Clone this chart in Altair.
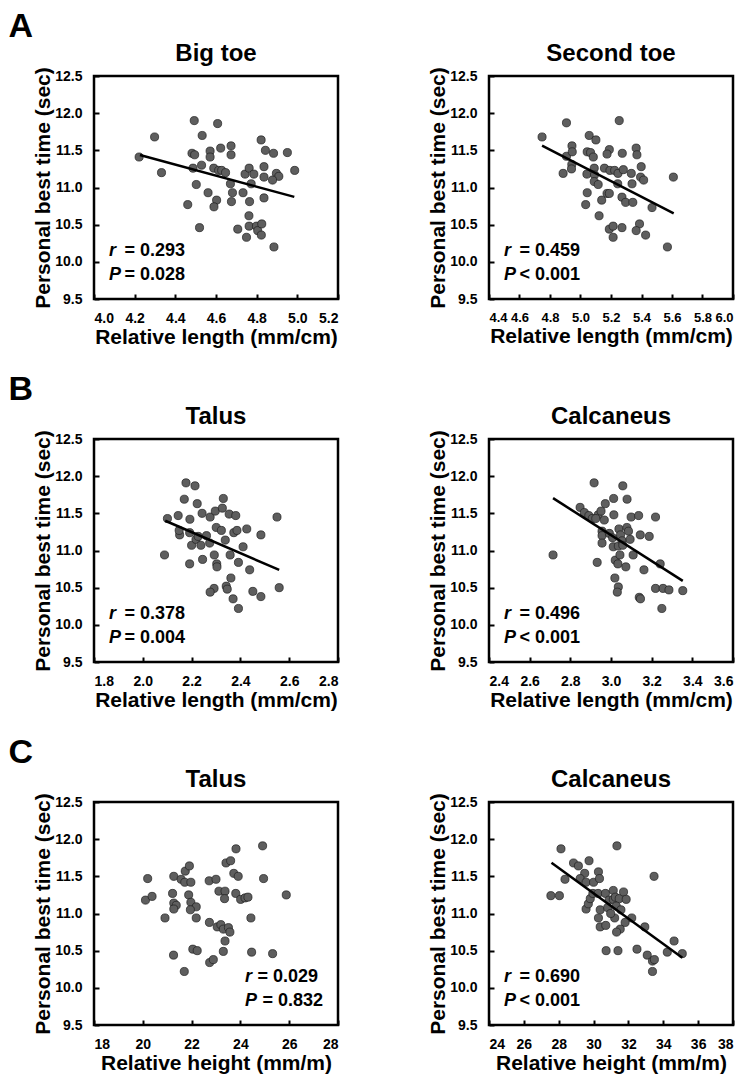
import altair as alt
import pandas as pd

# ---------------- data ----------------
Y_TICKS = [9.5, 10.0, 10.5, 11.0, 11.5, 12.0, 12.5]
Y_TITLE = "Personal best time (sec)"

# A - Big toe (relative length, mm/cm)
bigtoe_x = [4.222, 4.298, 4.332, 4.493, 4.482, 4.495, 4.487, 4.529, 4.532, 4.503, 4.461, 4.519,
            4.561, 4.571, 4.571, 4.608, 4.623, 4.589, 4.613, 4.628, 4.647, 4.603, 4.590, 4.674,
            4.674, 4.671, 4.681, 4.676, 4.707, 4.733, 4.743, 4.763, 4.786, 4.773, 4.765, 4.762,
            4.763, 4.750, 4.799, 4.805, 4.823, 4.825, 4.822, 4.843, 4.836, 4.836, 4.836, 4.883,
            4.897, 4.909, 4.878, 4.885, 4.951, 4.987]
bigtoe_y = [11.41, 11.68, 11.20, 11.90, 11.46, 11.44, 11.26, 11.30, 11.70, 11.04, 10.77, 10.46,
            10.93, 11.49, 11.41, 11.86, 11.53, 11.26, 11.23, 11.23, 11.20, 10.83, 10.74, 11.56,
            11.44, 11.05, 10.93, 10.81, 10.44, 10.93, 11.18, 11.26, 11.18, 11.05, 10.81, 10.62,
            10.48, 10.33, 10.48, 10.42, 10.36, 10.51, 11.64, 11.50, 11.28, 11.14, 10.86, 11.46,
            11.19, 11.15, 11.10, 10.20, 11.47, 11.23]
bigtoe_fit_x = [4.226, 4.985]
bigtoe_fit_y = [11.437, 10.874]

# A - Second toe
second_x = [4.748, 4.908, 4.908, 4.886, 4.944, 4.946, 4.943, 4.941, 5.057, 5.101, 5.044, 5.066,
            5.084, 5.090, 5.042, 5.092, 5.090, 5.116, 5.044, 5.034, 5.139, 5.122, 5.157, 5.189,
            5.174, 5.193, 5.174, 5.189, 5.254, 5.274, 5.224, 5.246, 5.281, 5.244, 5.272, 5.296,
            5.343, 5.333, 5.338, 5.365, 5.370, 5.398, 5.394, 5.414, 5.469, 5.189, 5.214, 5.214,
            5.272, 5.387, 5.365, 5.427, 5.570, 5.609]
second_y = [11.68, 11.87, 11.42, 11.19, 11.56, 11.48, 11.31, 11.25, 11.70, 11.64, 11.48, 11.47,
            11.41, 11.26, 11.18, 11.17, 11.08, 11.04, 10.93, 10.77, 10.83, 10.62, 11.26, 11.51,
            11.45, 11.23, 10.92, 10.92, 11.90, 11.46, 11.23, 11.19, 11.24, 11.05, 10.87, 10.80,
            10.80, 11.19, 11.05, 11.53, 11.44, 11.28, 11.14, 11.10, 10.73, 10.44, 10.48, 10.33,
            10.46, 10.51, 10.42, 10.36, 10.20, 11.14]
second_fit_x = [4.748, 5.611]
second_fit_y = [11.563, 10.653]

# B - Talus (relative length)
talusL_x = [2.089, 2.101, 2.145, 2.177, 2.214, 2.170, 2.151, 2.149, 2.193, 2.192, 2.200, 2.192,
            2.223, 2.243, 2.218, 2.227, 2.261, 2.238, 2.274, 2.245, 2.276, 2.297, 2.326, 2.330,
            2.301, 2.322, 2.293, 2.303, 2.304, 2.338, 2.354, 2.381, 2.358, 2.373, 2.386, 2.392,
            2.426, 2.411, 2.438, 2.484, 2.361, 2.342, 2.346, 2.292, 2.276, 2.370, 2.392, 2.451,
            2.484, 2.550, 2.559]
talusL_y = [10.94, 11.43, 11.47, 11.91, 11.87, 11.69, 11.21, 11.27, 11.42, 11.24, 11.07, 10.82,
            11.63, 11.50, 11.15, 11.19, 11.20, 11.07, 11.10, 10.88, 11.45, 11.53, 11.57, 11.70,
            11.31, 11.27, 10.94, 10.82, 10.78, 11.14, 11.49, 11.47, 10.94, 11.24, 11.27, 10.84,
            11.29, 11.05, 10.74, 11.21, 10.63, 10.52, 10.48, 10.49, 10.44, 10.35, 10.22, 10.45,
            10.38, 11.45, 10.50]
talusL_fit_x = [2.092, 2.559]
talusL_fit_y = [11.400, 10.739]

# B - Calcaneus (relative length)
calcL_x = [2.715, 2.848, 2.869, 2.891, 2.917, 2.908, 2.937, 2.951, 2.972, 2.925, 2.967, 2.956,
           2.956, 2.956, 2.992, 2.932, 3.013, 3.014, 3.008, 3.011, 3.036, 3.021, 3.034, 3.044,
           3.073, 3.058, 3.079, 3.039, 3.047, 3.055, 3.058, 3.078, 3.086, 3.094, 3.099, 3.136,
           3.144, 3.188, 3.109, 3.162, 3.019, 3.036, 3.031, 3.139, 3.145, 3.219, 3.242, 3.219,
           3.256, 3.285, 3.353, 3.250]
calcL_y = [10.94, 11.58, 11.51, 11.47, 11.91, 11.43, 11.48, 11.53, 11.63, 11.43, 11.41, 11.26,
           11.20, 11.10, 11.23, 10.84, 11.70, 11.48, 11.17, 11.05, 11.06, 10.87, 10.82, 10.94,
           10.78, 11.87, 11.69, 11.29, 11.21, 11.13, 11.07, 11.31, 11.26, 11.15, 11.45, 11.47,
           11.21, 11.19, 10.94, 10.74, 10.63, 10.51, 10.44, 10.37, 10.35, 11.45, 10.82, 10.49,
           10.49, 10.47, 10.46, 10.22]
calcL_fit_x = [2.715, 3.353]
calcL_fit_y = [11.704, 10.591]

# C - Talus (relative height, mm/m)
talusH_x = [20.11, 20.20, 20.38, 20.91, 21.22, 21.27, 21.27, 21.37, 21.27, 21.26, 21.57, 21.72,
            21.74, 21.91, 21.97, 21.88, 21.97, 22.19, 21.95, 22.19, 22.05, 22.23, 21.70, 22.73,
            22.72, 23.00, 23.12, 23.37, 23.35, 23.05, 23.20, 23.30, 23.51, 23.57, 23.37, 23.30,
            22.74, 22.89, 23.41, 23.60, 23.73, 23.91, 23.82, 23.81, 24.01, 24.19, 24.31, 24.43,
            24.46, 24.91, 24.95, 25.32, 25.88]
talusH_y = [11.18, 11.47, 11.23, 10.94, 11.27, 11.50, 11.14, 11.11, 11.06, 10.44, 11.46, 11.42,
            11.57, 11.64, 11.42, 11.25, 11.15, 11.09, 11.05, 10.94, 10.52, 10.50, 10.22, 10.88,
            11.44, 11.46, 11.30, 11.30, 11.20, 10.82, 10.85, 10.79, 10.81, 10.75, 10.63, 10.49,
            10.34, 10.38, 11.68, 11.71, 11.54, 11.50, 11.87, 11.27, 11.19, 11.21, 11.22, 10.94,
            10.48, 11.91, 11.47, 10.46, 11.25]

# C - Calcaneus (relative height, mm/m)
calcH_x = [27.55, 28.04, 28.13, 28.36, 28.85, 29.13, 29.49, 29.74, 29.23, 29.57, 30.00, 30.28,
           30.34, 29.57, 29.70, 29.81, 29.96, 30.26, 30.68, 30.38, 30.28, 30.38, 30.70, 30.89,
           31.13, 31.13, 31.34, 31.25, 31.47, 31.72, 31.87, 31.30, 30.81, 31.57, 31.21, 32.19,
           31.81, 31.53, 31.32, 30.72, 31.40, 32.49, 32.94, 33.08, 33.47, 33.38, 33.49, 33.38,
           34.23, 34.62, 35.09, 30.98]
calcH_y = [11.24, 11.24, 11.87, 11.46, 11.68, 11.64, 11.54, 11.71, 11.47, 11.42, 11.42, 11.56,
           11.47, 11.06, 11.13, 11.20, 11.27, 11.27, 11.27, 11.05, 10.94, 10.82, 10.84, 11.18,
           11.31, 11.19, 11.91, 11.22, 11.20, 11.29, 11.19, 11.10, 11.08, 11.05, 10.94, 10.94,
           10.88, 10.79, 10.75, 10.50, 10.50, 10.52, 10.82, 10.44, 11.50, 10.36, 10.38, 10.22,
           10.48, 10.63, 10.46, 11.00]
calcH_fit_x = [27.585, 35.094]
calcH_fit_y = [11.683, 10.406]

# ---------------- styling ----------------
FONT = "Liberation Sans"
W = 244
H = 223
DOT_FILL = "#5e5e5e"


def text_layer(s, x, y, align, size=18, italic=False):
    return alt.Chart(pd.DataFrame({"t": [s]})).mark_text(
        align=align, baseline="alphabetic", font=FONT, fontSize=size,
        fontWeight="bold", fontStyle="italic" if italic else "normal", color="black"
    ).encode(x=alt.value(x), y=alt.value(y), text="t:N")


def panel(xs, ys, fx, fy, xdom, xticks, xfmt, xtitle, title,
          r_txt, p_txt, right_side=False, xlabel_size=14):
    xenc = alt.X("x:Q", scale=alt.Scale(domain=xdom, nice=False, zero=False),
                 axis=alt.Axis(values=xticks, format=xfmt, title=xtitle, offset=-5,
                               labelFontSize=xlabel_size))
    yenc = alt.Y("y:Q", scale=alt.Scale(domain=[9.5, 12.5], nice=False, zero=False),
                 axis=alt.Axis(values=Y_TICKS, format=".1f", title=Y_TITLE, offset=-5))
    layers = [alt.Chart(pd.DataFrame({"x": xs, "y": ys})).mark_circle(
        size=66, fill=DOT_FILL, stroke="#1e1e1e", strokeWidth=0.7, opacity=1
    ).encode(x=xenc, y=yenc)]
    if fx is not None:
        layers.append(alt.Chart(pd.DataFrame({"x": fx, "y": fy})).mark_line(
            color="black", strokeWidth=2.5).encode(x=xenc, y=yenc))
    if right_side:
        lx_r = lx_p = W - 93
        rx_r, rx_p = W - 20, W - 15
    else:
        lx_r = lx_p = 15
        rx_r = rx_p = 91
    layers += [
        text_layer("r", lx_r, H - 43, "left", italic=True),
        text_layer(r_txt, rx_r, H - 43, "right"),
        text_layer("P", lx_p, H - 19, "left", italic=True),
        text_layer(p_txt, rx_p, H - 19, "right"),
    ]
    return alt.layer(*layers).properties(
        width=W, height=H,
        title=alt.TitleParams(text=title, font=FONT, fontSize=24, fontWeight="bold",
                              color="black", offset=1, anchor="middle", frame="group"))


def row(letter, left, right):
    return alt.hconcat(left, right, spacing=151, bounds="flush").properties(
        title=alt.TitleParams(text=letter, font=FONT, fontSize=34, fontWeight="bold",
                              color="black", anchor="start", offset=-2, dx=-23, dy=2))


LEN_T = "Relative length (mm/cm)"
HGT_T = "Relative height (mm/m)"

p1 = panel(bigtoe_x, bigtoe_y, bigtoe_fit_x, bigtoe_fit_y, [4.0, 5.2],
           [4.0, 4.2, 4.4, 4.6, 4.8, 5.0, 5.2], ".1f", LEN_T, "Big toe",
           "=  0.293", "= 0.028")
p2 = panel(second_x, second_y, second_fit_x, second_fit_y, [4.4, 6.0],
           [4.4, 4.6, 4.8, 5.0, 5.2, 5.4, 5.6, 5.8, 6.0], ".1f", LEN_T, "Second toe",
           "=  0.459", "< 0.001", xlabel_size=13)
p3 = panel(talusL_x, talusL_y, talusL_fit_x, talusL_fit_y, [1.8, 2.8],
           [1.8, 2.0, 2.2, 2.4, 2.6, 2.8], ".1f", LEN_T, "Talus",
           "=  0.378", "= 0.004")
p4 = panel(calcL_x, calcL_y, calcL_fit_x, calcL_fit_y, [2.4, 3.6],
           [2.4, 2.6, 2.8, 3.0, 3.2, 3.4, 3.6], ".1f", LEN_T, "Calcaneus",
           "=  0.496", "< 0.001")
p5 = panel(talusH_x, talusH_y, None, None, [18, 28],
           [18, 20, 22, 24, 26, 28], "d", HGT_T, "Talus",
           "= 0.029", "= 0.832", right_side=True)
p6 = panel(calcH_x, calcH_y, calcH_fit_x, calcH_fit_y, [24, 38],
           [24, 26, 28, 30, 32, 34, 36, 38], "d", HGT_T, "Calcaneus",
           "=  0.690", "< 0.001")

chart = alt.vconcat(
    row("A", p1, p2), row("B", p3, p4), row("C", p5, p6), spacing=24
).properties(
    padding={"left": 0, "top": 2, "right": 0, "bottom": 0}
).configure(
    background="white"
).configure_view(
    stroke="black", strokeWidth=2.5, fill="white"
).configure_axis(
    domain=False, grid=False, ticks=True, tickColor="black", tickWidth=2, tickSize=5,
    labelFont=FONT, labelFontSize=14, labelFontWeight="bold", labelColor="black",
    labelPadding=12, titleFont=FONT, titleFontSize=21, titleFontWeight="bold",
    titleColor="black", titlePadding=1
)

chart.save("out.html", embed_options={"renderer": "svg", "actions": False})
